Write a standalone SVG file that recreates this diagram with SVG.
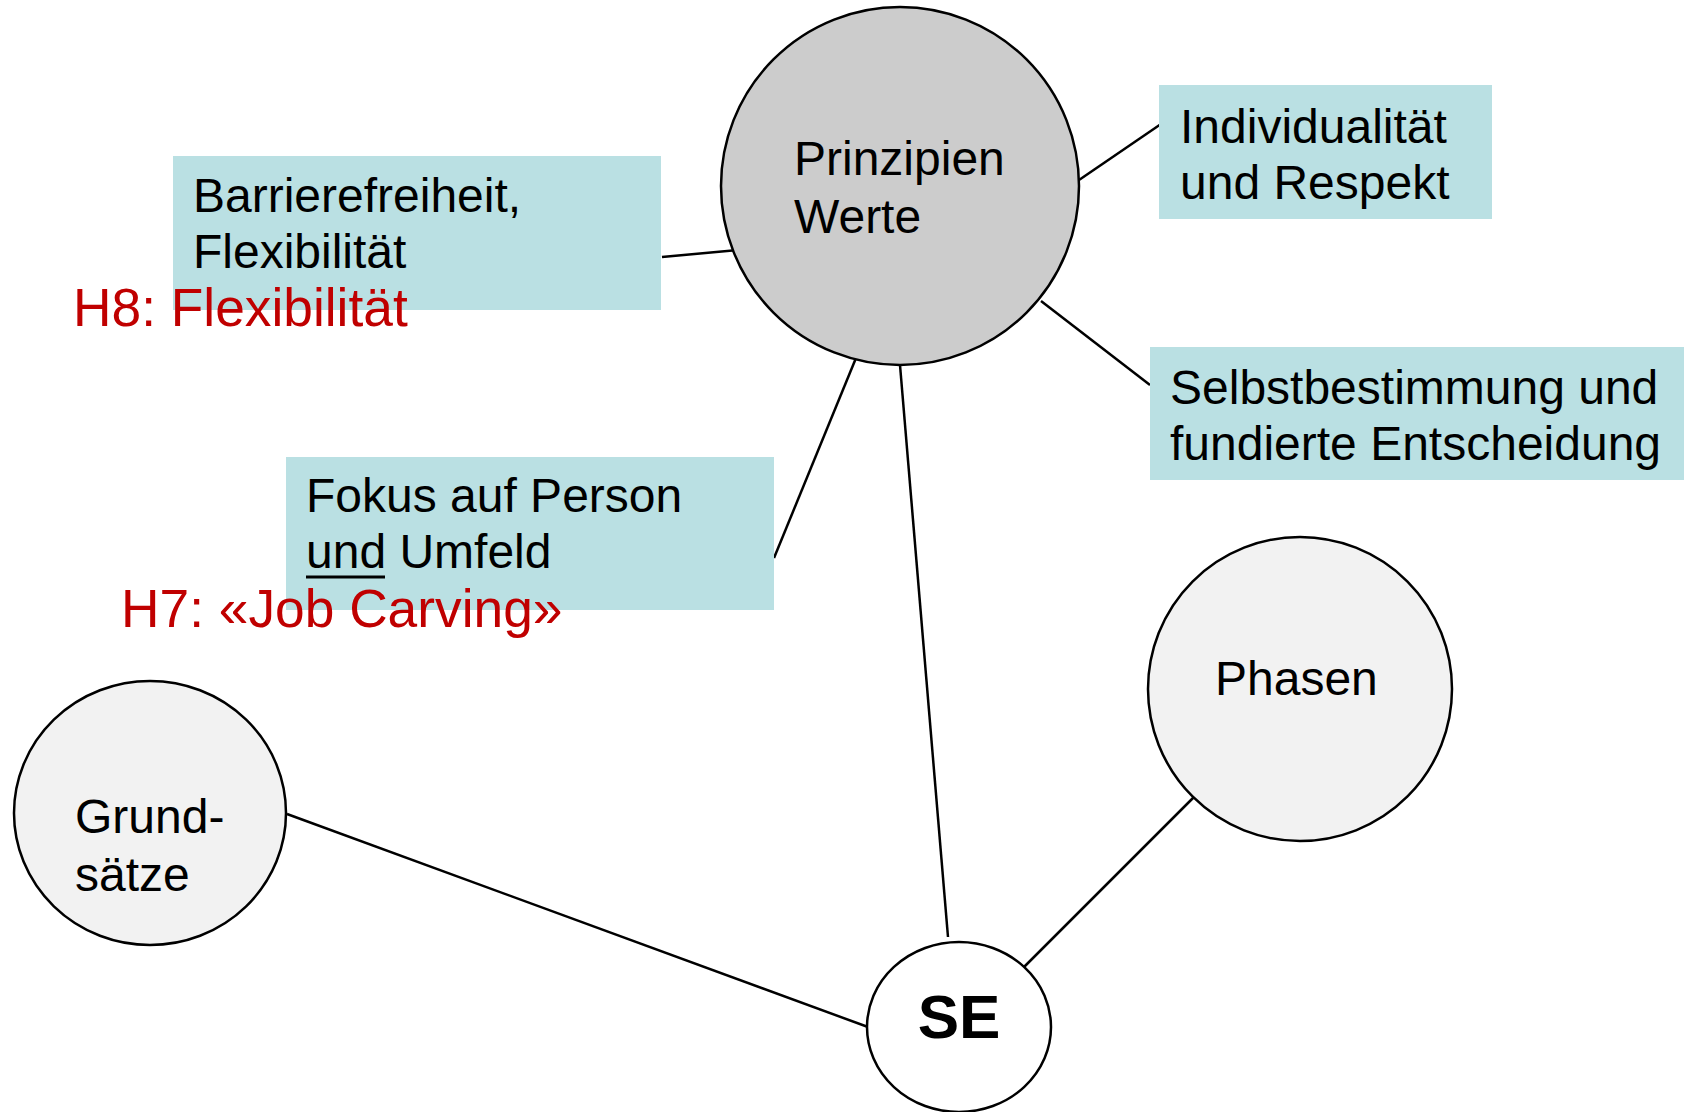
<svg xmlns="http://www.w3.org/2000/svg" width="1684" height="1112" viewBox="0 0 1684 1112">
<style>
.t{font-family:"Liberation Sans",Arial,sans-serif;font-size:48px;fill:#000}
.r{font-family:"Liberation Sans",Arial,sans-serif;font-size:53.3px;fill:#C00000}
.box{fill:#BAE0E3}
.c{stroke:#000;stroke-width:2.5}
.edge{stroke:#000;stroke-width:2.5;fill:none}
</style>
<rect width="1684" height="1112" fill="#fff"/>
<g id="connectors">
<line class="edge" x1="662" y1="257" x2="738" y2="250"/>
<line class="edge" x1="1079" y1="180" x2="1161" y2="124"/>
<line class="edge" x1="1041" y1="301" x2="1150" y2="385"/>
<line class="edge" x1="856" y1="358" x2="774" y2="558"/>
<line class="edge" x1="900" y1="365" x2="948" y2="937"/>
<line class="edge" x1="287" y1="814" x2="868" y2="1027"/>
<line class="edge" x1="1194" y1="797" x2="1024" y2="967"/>
</g>
<g id="prinzipien">
<circle class="c" cx="900" cy="186" r="179" fill="#CCCCCC"/>
<text class="t" x="794" y="175">Prinzipien</text>
<text class="t" x="794" y="233">Werte</text>
</g>
<g id="barriere">
<rect class="box" x="173" y="156" width="488" height="154"/>
<text class="t" x="193" y="212">Barrierefreiheit,</text>
<text class="t" x="193" y="268">Flexibilität</text>
</g>
<g id="h8">
<text class="r" x="73" y="326">H8: Flexibilität</text>
</g>
<g id="individualitaet">
<rect class="box" x="1159" y="85" width="333" height="134"/>
<text class="t" x="1180" y="143">Individualität</text>
<text class="t" x="1180" y="199">und Respekt</text>
</g>
<g id="selbstbestimmung">
<rect class="box" x="1150" y="347" width="534" height="133"/>
<text class="t" x="1170" y="404">Selbstbestimmung und</text>
<text class="t" x="1170" y="460">fundierte Entscheidung</text>
</g>
<g id="fokus">
<rect class="box" x="286" y="457" width="488" height="153"/>
<text class="t" x="306" y="512">Fokus auf Person</text>
<text class="t" x="306" y="568">und Umfeld</text>
<line x1="306" y1="577" x2="385" y2="577" stroke="#000" stroke-width="3"/>
</g>
<g id="h7">
<text class="r" x="121" y="627">H7: «Job Carving»</text>
</g>
<g id="grundsaetze">
<ellipse class="c" cx="150" cy="813" rx="136" ry="132" fill="#F2F2F2"/>
<text class="t" x="75" y="833">Grund-</text>
<text class="t" x="75" y="891">sätze</text>
</g>
<g id="phasen">
<circle class="c" cx="1300" cy="689" r="152" fill="#F2F2F2"/>
<text class="t" x="1215" y="695">Phasen</text>
</g>
<g id="se">
<ellipse class="c" cx="959" cy="1027" rx="92" ry="85" fill="#fff"/>
<text x="959" y="1038" text-anchor="middle" font-family="Liberation Sans,Arial,sans-serif" font-size="62" font-weight="bold">SE</text>
</g>
</svg>
